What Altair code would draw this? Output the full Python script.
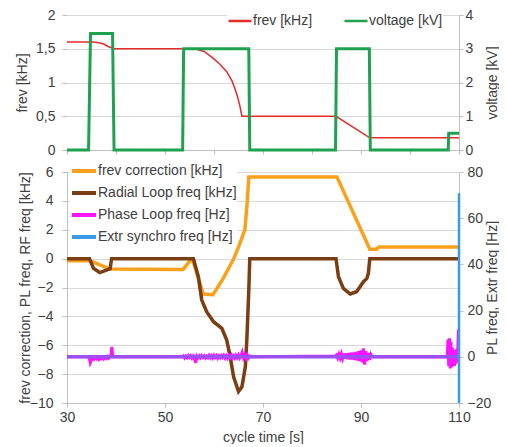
import altair as alt
import pandas as pd

FONT = "Liberation Sans"
TXT = "#404040"
GRID = "#d9d9d9"
AXC = "#bfbfbf"

# ---------------- top panel data ----------------
frev_t = [30, 35.3, 36.5, 37.5, 38.5, 39.6, 56.1, 58.0, 59.8, 61.2, 62.6, 63.7, 64.6, 65.2, 65.7, 84.9, 91.8, 110]
frev_v = [1.6, 1.6, 1.59, 1.57, 1.53, 1.5, 1.5, 1.46, 1.36, 1.27, 1.16, 1.02, 0.84, 0.68, 0.5, 0.5, 0.18, 0.18]

volt_t = [30, 34.4, 34.8, 39.3, 39.6, 53.6, 53.8, 67.1, 67.3, 84.8, 85.0, 91.7, 91.9, 107.8, 107.9, 110]
volt_v = [0, 0, 3.45, 3.45, 0, 0, 3.0, 3.0, 0, 0, 3.0, 3.0, 0, 0, 0.5, 0.5]

top_series = ["frev [kHz]", "voltage [kV]"]
top_colors = ["#e32d2d", "#1fa24f"]

# ---------------- bottom panel data ----------------
corr_t = [30, 34.7, 38.8, 53.7, 55.1, 55.7, 57.8, 59.8, 62.0, 63.9, 65.0, 66.3, 66.8, 67.1, 85.1, 91.8, 93.2, 93.6, 110]
corr_v = [-0.15, -0.15, -0.72, -0.75, -0.15, -0.15, -2.45, -2.5, -1.3, -0.1, 0.8, 2.0, 4.0, 5.65, 5.65, 0.65, 0.65, 0.8, 0.8]

rad_t = [30, 34.6, 35.4, 36.7, 38.8, 39.1, 55.8, 56.8, 57.5, 58.5, 59.9, 61.6, 62.6, 63.3, 64.0, 65.0, 65.7,
         66.4, 66.7, 67.1, 67.3, 84.9, 85.4, 86.4, 87.8, 89.1, 90.5, 91.2, 91.5, 91.8, 110]
rad_v = [0, 0, -0.67, -0.97, -0.7, 0, 0, -1.25, -2.87, -3.68, -4.37, -4.83, -5.64, -6.79, -8.18, -9.2, -8.87,
         -7.49, -5.64, -2.2, 0, 0, -1.25, -2.06, -2.45, -2.29, -1.6, -1.37, -1.02, 0, 0]

pl_t = [30, 34.5, 34.75, 35.0, 35.25, 35.5, 35.75, 36.0, 36.25, 36.5, 36.75, 37.0, 37.25, 37.5, 37.75,
        38.0, 38.25, 38.5, 38.75, 39.0, 39.15, 39.25, 39.4,
        53.5, 53.75, 54.0, 54.25, 54.5, 54.75, 55.0, 55.25, 55.5, 55.75, 56.0, 56.25, 56.5, 56.75, 57.0,
        57.25, 57.5, 57.75, 58.0, 58.25, 58.5, 58.75, 59.0, 59.25, 59.5, 59.75, 60.0, 60.25, 60.5, 60.75,
        61.0, 61.25, 61.5, 61.75, 62.0, 62.25, 62.5, 62.75, 63.0, 63.25, 63.5, 63.75, 64.0, 64.25, 64.5,
        64.75, 65.0, 65.25, 65.5, 65.75, 66.0, 66.25, 66.5, 66.75, 67.0, 67.25, 67.4,
        84.75, 85.0, 85.25, 85.5, 85.75, 86.0, 86.25, 86.5, 86.75, 87.0, 87.25, 87.5, 87.75, 88.0, 88.25,
        88.5, 88.75, 89.0, 89.25, 89.5, 89.75, 90.0, 90.25, 90.5, 90.75, 91.0, 91.25, 91.5, 91.75, 92.0, 92.25,
        107.6, 107.75, 107.9, 108.05, 108.2, 108.35, 108.5, 108.65, 108.8, 108.95, 109.1, 109.25, 109.4,
        109.55, 109.7, 109.85, 110]
pl_v = [0, 0, -2.5, -1.2, -0.3, -1.0, -0.2, -0.9, -0.3, -1.1, -0.2, -0.8, -0.1, -0.9, -0.2,
        -0.7, 0.1, -0.6, 0.2, 0.8, 4.3, 2.0, 0,
        0, 0.4, -0.5, 0.3, -0.4, 0.5, -0.3, 0.4, -0.6, 0.3, -0.7, -2.6, 0.3, -0.5, 0.4,
        -0.4, 0.5, -0.3, 0.4, -0.5, 0.3, -0.4, 0.6, -0.4, 0.4, -0.5, 0.6, -0.3, 0.5, -0.6,
        0.4, -0.4, 0.5, -0.3, 0.6, -0.5, 0.4, -0.6, 0.5, -0.4, 0.7, -0.5, 0.4, -0.6, 0.6,
        -0.4, 0.7, -0.5, 0.6, 2.0, -0.4, 0.8, -0.6, 0.7, -0.6, 0.3, 0,
        0.3, 0.8, -0.5, 1.0, -0.6, 1.2, -0.7, 1.4, -0.8, 1.5, -1.0, 1.6, -1.1, 1.8, -1.2,
        1.9, -1.4, 2.1, -1.6, 2.4, -1.9, 2.8, -2.4, 3.6, -3.4, 2.4, -1.8, 1.6, -1.2, 1.0, 0,
        0, 7.5, -4.0, 8.0, -5.0, 6.5, -4.5, 4.0, -3.5, 3.0, -4.0, 2.5, -3.0,
        3.5, -2.5, 11.0, 12.0]

extr_t = [30, 110, 110, 110]
extr_v = [0, 0, 70.8, -20]

bot_series = ["frev correction [kHz]", "Radial Loop freq [kHz]", "Phase Loop freq [Hz]", "Extr synchro freq [Hz]"]
bot_colors = ["#f9a11b", "#7b3e12", "#ff14ff", "#3b9ae8"]
violet = "#9d50f2"   # blue zero line seen through the magenta one

# ---------------- frames ----------------
df_frev = pd.DataFrame({"t": frev_t, "v": frev_v, "series": top_series[0]})
df_volt = pd.DataFrame({"t": volt_t, "v": volt_v, "series": top_series[1]})
df_corr = pd.DataFrame({"t": corr_t, "v": corr_v, "series": bot_series[0]})
df_rad = pd.DataFrame({"t": rad_t, "v": rad_v, "series": bot_series[1]})
df_pl = pd.DataFrame({"t": pl_t, "v": pl_v, "series": bot_series[2]})
df_pl["i"] = range(len(df_pl))
df_ex = pd.DataFrame({"t": extr_t, "v": extr_v, "series": bot_series[3]})
df_ex["i"] = range(len(df_ex))

xscale = alt.Scale(domain=[30, 110], nice=False)

# ---------------- top panel ----------------
x_top = alt.X("t:Q", scale=xscale,
              axis=alt.Axis(values=list(range(30, 111, 10)), labels=False, title=None, grid=False,
                            tickSize=4, domain=True))
top_legend = alt.Legend(title=None, orient="none", direction="horizontal", legendX=160, legendY=-7,
                        symbolType="stroke", symbolSize=529, columnPadding=26, labelOffset=0,
                        padding=0, fillColor="white", symbolStrokeWidth=2.5)
color_top = alt.Color("series:N", scale=alt.Scale(domain=top_series, range=top_colors), legend=top_legend)

y_frev = alt.Y("v:Q", scale=alt.Scale(domain=[0, 2], nice=False),
               axis=alt.Axis(values=[0, 0.5, 1, 1.5, 2], format=".1~f",
                             labelExpr="replace(datum.label, '.', ',')",
                             title="frev [kHz]", orient="left", grid=True, domain=False,
                             tickSize=5, labelPadding=7, minExtent=35, maxExtent=35, titlePadding=3))
y_volt = alt.Y("v:Q", scale=alt.Scale(domain=[0, 4], nice=False),
               axis=alt.Axis(values=[0, 1, 2, 3, 4], title="voltage [kV]", orient="right", grid=False,
                             titleAngle=270, titleBaseline="top", tickSize=4, labelPadding=2,
                             minExtent=26, maxExtent=26, titlePadding=0))

red = alt.Chart(df_frev).mark_line(strokeWidth=1.5).encode(x=x_top, y=y_frev, color=color_top)
green = alt.Chart(df_volt).mark_line(strokeWidth=3).encode(x=x_top, y=y_volt, color=color_top)
top = alt.layer(red, green).resolve_scale(y="independent").properties(width=392, height=135)

# ---------------- bottom panel ----------------
x_bot = alt.X("t:Q", scale=xscale,
              axis=alt.Axis(values=[30, 50, 70, 90, 110], title="cycle time [s]", grid=False,
                            tickSize=4, labelPadding=3, titlePadding=6, labelFlush=False))
bot_legend = alt.Legend(title=None, orient="none", direction="vertical", legendX=3, legendY=-15,
                        symbolType="stroke", symbolSize=576, rowPadding=-2, labelOffset=0,
                        padding=0, fillColor="white", symbolStrokeWidth=4)
color_bot = alt.Color("series:N", scale=alt.Scale(domain=bot_series, range=bot_colors), legend=bot_legend)

y_left = alt.Y("v:Q", scale=alt.Scale(domain=[-10, 6], nice=False),
               axis=alt.Axis(values=list(range(-10, 7, 2)), title="frev correction, PL freq, RF freq [kHz]",
                             orient="left", grid=True, domain=True, tickSize=5, labelPadding=9,
                             minExtent=32, maxExtent=32, titlePadding=3))
y_right = alt.Y("v:Q", scale=alt.Scale(domain=[-20, 80], nice=False),
                axis=alt.Axis(values=[-20, 0, 20, 40, 60, 80], title="PL freq, Extr freq [Hz]",
                              orient="right", grid=False, titleAngle=270, titleBaseline="top",
                              tickSize=4, labelPadding=4, minExtent=26, maxExtent=26, titlePadding=0))

orange = alt.Chart(df_corr).mark_line(strokeWidth=3.5).encode(x=x_bot, y=y_left, color=color_bot)
brown = alt.Chart(df_rad).mark_line(strokeWidth=3.5).encode(x=x_bot, y=y_left, color=color_bot)
left = alt.layer(orange, brown)

magenta = alt.Chart(df_pl).mark_line(strokeWidth=3).encode(
    x=x_bot, y=y_right, color=color_bot, order="i:Q")
blue_flat = alt.Chart(df_ex).transform_filter("datum.i <= 1").mark_line(
    strokeWidth=3.5, color=violet).encode(x=x_bot, y=y_right, order="i:Q")
blue_vert = alt.Chart(df_ex).transform_filter("datum.i >= 1").mark_line(
    strokeWidth=2.5).encode(x=x_bot, y=y_right, color=color_bot, order="i:Q")
right = alt.layer(magenta, blue_flat, blue_vert)

bottom = alt.layer(left, right).resolve_scale(y="independent").properties(width=392, height=231)

chart = alt.vconcat(top, bottom, spacing=22, bounds="flush").resolve_scale(
    color="independent").resolve_legend(color="independent").properties(
    padding={"left": 7, "top": 0, "right": 0, "bottom": 0}
).configure(font=FONT).configure_axis(
    labelFont=FONT, titleFont=FONT, labelFontSize=14, titleFontSize=14, titleFontWeight="normal",
    labelColor=TXT, titleColor=TXT, gridColor=GRID, domainColor=AXC, tickColor=AXC
).configure_legend(
    labelFont=FONT, labelFontSize=14, labelColor=TXT
).configure_view(stroke=None)

chart.save("out.html", embed_options={"renderer": "svg", "actions": False})
